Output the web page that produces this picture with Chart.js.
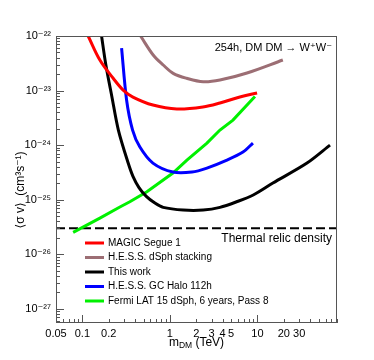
<!DOCTYPE html>
<html>
<head>
<meta charset="utf-8">
<script src="https://cdn.jsdelivr.net/npm/chart.js@4.4.1/dist/chart.umd.min.js"></script>
<style>
  html, body { margin: 0; padding: 0; background: #fff; }
  canvas { display: block; }
</style>
</head>
<body>
<canvas id="limits" width="374" height="360"></canvas>
<script>
const FONT = '"Liberation Sans", Arial, "DejaVu Sans", sans-serif'

// m_DM in TeV, <sigma v> upper limits in cm^3 s^-1
const magicMass = [0.1165, 0.1585, 0.2249, 0.2925, 0.378, 0.64, 1.2, 2.38, 3.73, 6.3, 9.9]
const magicSv = [1e-22, 3.63e-23, 1.68e-23, 1.02e-23, 7.6e-24, 5.43e-24, 4.59e-24, 4.99e-24, 5.91e-24, 7.62e-24, 9.02e-24]

const stackMass = [0.4622, 0.644, 0.838, 1.09, 1.552, 2.40, 3.73, 7.59, 19.5]
const stackSv = [1e-22, 4.49e-23, 2.94e-23, 2.07e-23, 1.68e-23, 1.45e-23, 1.56e-23, 2.1e-23, 3.63e-23]

const thisMass = [0.1657, 0.1856, 0.2174, 0.2578, 0.3337, 0.3784, 0.4433, 0.5375, 0.674, 0.838, 1.419, 2.40, 3.73, 5.785, 8.95, 15.0, 36.8, 67.4]
const thisSv = [1e-22, 2.94e-23, 7.71e-24, 1.89e-24, 4.69e-25, 2.68e-25, 1.67e-25, 1.15e-25, 8.67e-26, 7.23e-26, 6.46e-26, 6.46e-26, 7.23e-26, 9.16e-26, 1.22e-25, 2.02e-25, 4.69e-25, 1.0e-24]

const haloMass = [0.2806, 0.32, 0.3747, 0.4542, 0.6394, 1.082, 1.784, 2.648, 4.48, 6.83, 8.88]
const haloSv = [6.02e-23, 6.71e-24, 1.89e-24, 9.22e-25, 4.69e-25, 3.21e-25, 3.21e-25, 3.8e-25, 5.32e-25, 7.46e-25, 1.09e-24]

const fermiMass = [0.0785, 0.1585, 0.2683, 0.3486, 0.5461, 1.082, 1.564, 2.648, 3.73, 5.25, 9.36]
const fermiSv = [2.52e-26, 4.6e-26, 7.33e-26, 9.16e-26, 1.40e-25, 3.08e-25, 5.32e-25, 1.09e-24, 1.89e-24, 2.88e-24, 7.78e-24]

const thermalRelic = 3e-26
const massRange = [0.05, 81]
const svRange = [5.5e-28, 1e-22]

const xTickLabels = [0.05, 0.1, 0.2, 1, 2, 3, 4, 5, 10, 20, 30]
const yTickLabels = [1e-27, 1e-26, 1e-25, 1e-24, 1e-23, 1e-22]

const SUP = { '-': '\u207B', '0': '\u2070', '1': '\u00B9', '2': '\u00B2', '3': '\u00B3', '4': '\u2074', '5': '\u2075', '6': '\u2076', '7': '\u2077', '8': '\u2078', '9': '\u2079' }
const sup = s => String(s).split('').map(c => SUP[c]).join('')

const zip = (xs, ys) => xs.map((x, i) => ({ x: x, y: ys[i] }))

const curve = (label, xs, ys, color, tension) => ({
    label: label,
    data: zip(xs, ys),
    borderColor: color,
    borderWidth: 3,
    pointRadius: 0,
    showLine: true,
    fill: false,
    tension: tension,
    inLegend: true,
})

const datasets = [
    curve('MAGIC Segue 1', magicMass, magicSv, '#ff0000', 0.35),
    curve('H.E.S.S. dSph stacking', stackMass, stackSv, '#9c6e74', 0.35),
    curve('This work', thisMass, thisSv, '#000000', 0.3),
    curve('H.E.S.S. GC Halo 112h', haloMass, haloSv, '#0000ff', 0.3),
    curve('Fermi LAT 15 dSph, 6 years, Pass 8', fermiMass, fermiSv, '#00f000', 0),
    {
        label: 'Thermal relic density',
        data: zip(massRange, [thermalRelic, thermalRelic]),
        borderColor: '#000',
        borderWidth: 2.2,
        borderDash: [9, 4],
        pointRadius: 0,
        showLine: true,
        inLegend: false,
    },
]

function logTicks(ctx, scale, horizontal, area) {
    const lo = Math.floor(Math.log10(scale.min))
    const hi = Math.ceil(Math.log10(scale.max))
    ctx.beginPath()
    for (let e = lo; e <= hi; e++) {
        for (let k = 1; k < 10; k++) {
            const v = k * Math.pow(10, e)
            if (v < scale.min * 0.999 || v > scale.max * 1.001) continue
            const p = Math.round(scale.getPixelForValue(v)) + 0.5
            const len = k === 1 ? 8 : 4
            if (horizontal) {
                ctx.moveTo(p, area.bottom)
                ctx.lineTo(p, area.bottom - len)
            } else {
                ctx.moveTo(area.left, p)
                ctx.lineTo(area.left + len, p)
            }
        }
    }
    ctx.stroke()
}

const decorations = {
    id: 'decorations',
    afterDraw(chart) {
        const ctx = chart.ctx
        const a = chart.chartArea
        ctx.save()

        // frame and inward ticks
        ctx.strokeStyle = '#555'
        ctx.lineWidth = 1
        ctx.strokeRect(a.left + 0.5, a.top + 0.5, a.right - a.left - 1, a.bottom - a.top - 1)
        logTicks(ctx, chart.scales.x, true, a)
        logTicks(ctx, chart.scales.y, false, a)

        ctx.fillStyle = '#000'
        ctx.textBaseline = 'middle'

        // header
        ctx.textAlign = 'right'
        ctx.font = '11px ' + FONT
        ctx.fillText('254h, DM DM \u2192 W\u207AW\u207B', 332, 48)
        ctx.font = '12px ' + FONT
        ctx.fillText('Thermal relic density', 332, 239)

        // legend
        ctx.font = '10px ' + FONT
        ctx.textAlign = 'left'
        const rows = chart.data.datasets.filter(d => d.inLegend)
        rows.forEach((d, i) => {
            const y = 243 + i * 14.5
            ctx.strokeStyle = d.borderColor
            ctx.lineWidth = 3
            ctx.beginPath()
            ctx.moveTo(85, y)
            ctx.lineTo(104, y)
            ctx.stroke()
            ctx.fillText(d.label, 108, y)
        })

        // x title: m_DM (TeV)
        ctx.font = '12px ' + FONT
        const wm = ctx.measureText('m').width
        const wt = ctx.measureText(' (TeV)').width
        ctx.font = '8.5px ' + FONT
        const wd = ctx.measureText('DM').width
        let x = (a.left + a.right) / 2 - (wm + wd + wt) / 2
        ctx.font = '12px ' + FONT
        ctx.fillText('m', x, 343)
        ctx.font = '8.5px ' + FONT
        ctx.fillText('DM', x + wm, 346)
        ctx.font = '12px ' + FONT
        ctx.fillText(' (TeV)', x + wm + wd, 343)

        // y title
        ctx.translate(21, 190)
        ctx.rotate(-Math.PI / 2)
        ctx.textAlign = 'center'
        ctx.fillText('\u27E8\u03C3 v\u27E9  (cm\u00B3s\u207B\u00B9)', 0, 0)
        ctx.restore()
    },
}

new Chart(document.getElementById('limits'), {
    type: 'scatter',
    data: { datasets: datasets },
    options: {
        responsive: false,
        animation: false,
        devicePixelRatio: 1,
        layout: { padding: { top: 36, right: 37, left: 0, bottom: 0 } },
        plugins: {
            legend: { display: false },
            tooltip: { enabled: false },
        },
        scales: {
            x: {
                type: 'logarithmic',
                min: massRange[0],
                max: massRange[1],
                bounds: 'data',
                grid: { display: false, drawTicks: false },
                border: { display: false },
                ticks: {
                    autoSkip: false,
                    maxRotation: 0,
                    padding: 4,
                    color: '#000',
                    font: { family: FONT, size: 11 },
                    callback: v => xTickLabels.includes(v) ? String(v) : '',
                },
                afterBuildTicks: s => { s.ticks = xTickLabels.map(v => ({ value: v })) },
                afterFit: s => { s.height = 37 },
            },
            y: {
                type: 'logarithmic',
                min: svRange[0],
                max: svRange[1],
                bounds: 'data',
                grid: { display: false, drawTicks: false },
                border: { display: false },
                ticks: {
                    autoSkip: false,
                    padding: 5,
                    color: '#000',
                    font: { family: FONT, size: 11 },
                    callback: v => '10' + sup(Math.round(Math.log10(v))),
                },
                afterBuildTicks: s => { s.ticks = yTickLabels.map(v => ({ value: v })) },
                afterFit: s => { s.width = 56 },
            },
        },
    },
    plugins: [decorations],
})
</script>
</body>
</html>
